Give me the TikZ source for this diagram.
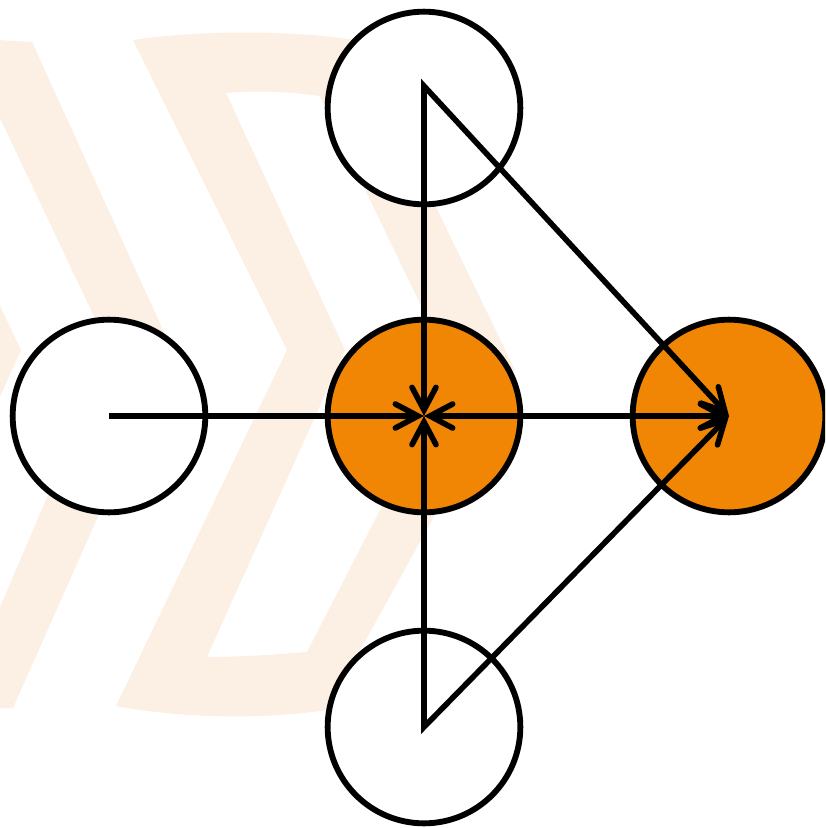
\documentclass[tikz,border=0pt]{standalone}
\usetikzlibrary{arrows.meta}
\definecolor{wm}{RGB}{252,240,228}
\definecolor{org}{RGB}{240,134,4}
\tikzset{hd/.tip={Straight Barb[length=17pt,width=18pt,line cap=round]}}
\begin{document}
\begin{tikzpicture}[x=0.75pt,y=-0.75pt,
  ball/.style={circle, draw=black, line width=4.4pt, minimum size=144.5pt, inner sep=0pt, outer sep=0pt},
  hollow/.style={ball, fill=white},
  filled/.style={ball, fill=org},
  link/.style={line width=4.2pt, draw=black}]
\useasboundingbox (0,0) rectangle (825,828);
\clip (0,0) rectangle (825,828);
\fill[white] (0,0) rectangle (825,828);
% watermark
\fill[wm] (-60,180) -- (21,350) -- (-60,530) -- cycle;
\fill[wm] (-38,38) -- (32,42) -- (172,350) -- (13,708) -- (-44,710) -- (110,350) -- cycle;
\fill[wm, even odd rule]
  (133,40) .. controls (200,30) and (290,30) .. (355,40) -- (515,370) -- (327,710)
  .. controls (260,720) and (180,718) .. (116,706) -- (287,350) -- cycle
  (226,93) .. controls (260,90) and (290,92) .. (320,96) -- (452,370) -- (307,652)
  .. controls (270,655) and (240,657) .. (207,657) -- (345,350) -- cycle;
% nodes
\node[hollow] (top) at (424,108) {};
\node[hollow] (left) at (109,416) {};
\node[filled] (mid) at (424,416) {};
\node[filled] (right) at (729,416) {};
\node[hollow] (bot) at (424,727) {};
\coordinate (ts) at (424,86);
% connectors
\draw[link, hd-hd] (mid.center) -- (ts) -- (right.center);
\draw[link, hd-hd] (mid.center) -- (bot.center) -- (right.center);
\draw[link, -hd] (left.center) -- (mid.center);
\draw[link, hd-hd] (mid.center) -- (right.center);
\end{tikzpicture}
\end{document}
